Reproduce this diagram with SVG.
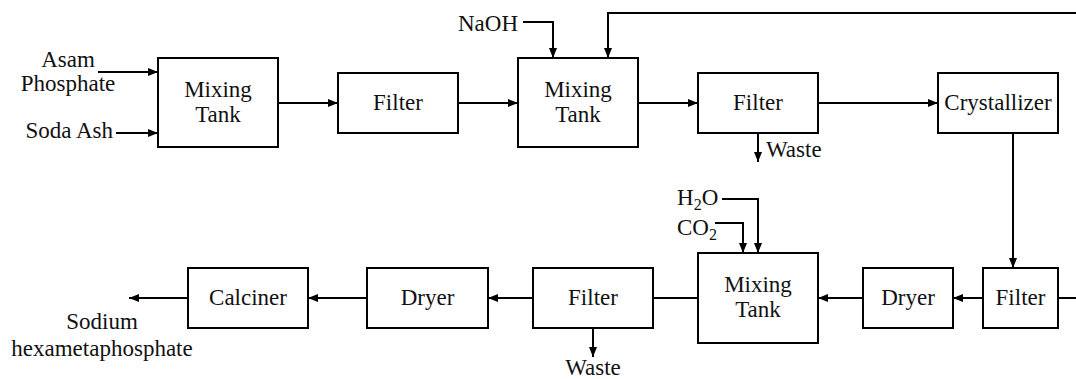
<svg xmlns="http://www.w3.org/2000/svg" width="1076" height="379" viewBox="0 0 1076 379">
<style>
.box{fill:#fff;stroke:#000;stroke-width:2}
text{font-family:'Liberation Serif','Times New Roman',serif;font-size:23px;fill:#111}
.c{text-anchor:middle}
.e{text-anchor:end}
.ln{fill:none;stroke:#000;stroke-width:2}
.sub{font-size:16px}
</style>
<defs>
<marker id="ah" viewBox="0 0 10 10" refX="10" refY="5" markerWidth="10" markerHeight="10" markerUnits="userSpaceOnUse" orient="auto">
<path d="M0,1 L10,5 L0,9 z" fill="#000"/>
</marker>
</defs>
<g id="connectors">
<line class="ln" x1="98" y1="72" x2="158" y2="72" marker-end="url(#ah)"/>
<line class="ln" x1="116" y1="133" x2="158" y2="133" marker-end="url(#ah)"/>
<line class="ln" x1="278" y1="103" x2="338" y2="103" marker-end="url(#ah)"/>
<line class="ln" x1="458" y1="103" x2="518" y2="103" marker-end="url(#ah)"/>
<polyline class="ln" points="523,22 553,22 553,58" marker-end="url(#ah)"/>
<polyline class="ln" points="1076,13 608,13 608,58" marker-end="url(#ah)"/>
<line class="ln" x1="638" y1="103" x2="698" y2="103" marker-end="url(#ah)"/>
<line class="ln" x1="818" y1="103" x2="938" y2="103" marker-end="url(#ah)"/>
<line class="ln" x1="758" y1="133" x2="758" y2="162" marker-end="url(#ah)"/>
<line class="ln" x1="1013" y1="133" x2="1013" y2="268" marker-end="url(#ah)"/>
<line class="ln" x1="1058" y1="298" x2="1076" y2="298"/>
<line class="ln" x1="983" y1="298" x2="953" y2="298" marker-end="url(#ah)"/>
<line class="ln" x1="863" y1="298" x2="818" y2="298" marker-end="url(#ah)"/>
<polyline class="ln" points="722,199 758,199 758,253" marker-end="url(#ah)"/>
<polyline class="ln" points="715,223 743,223 743,253" marker-end="url(#ah)"/>
<line class="ln" x1="698" y1="298" x2="653" y2="298"/>
<line class="ln" x1="593" y1="328" x2="593" y2="357" marker-end="url(#ah)"/>
<line class="ln" x1="533" y1="298" x2="488" y2="298" marker-end="url(#ah)"/>
<line class="ln" x1="367" y1="298" x2="308" y2="298" marker-end="url(#ah)"/>
<line class="ln" x1="188" y1="298" x2="129" y2="298" marker-end="url(#ah)"/>
</g>
<g id="mixing-tank-1"><rect class="box" x="158" y="58" width="120" height="89"/><text class="c" x="218" y="97">Mixing</text><text class="c" x="218" y="122">Tank</text></g>
<g id="filter-1"><rect class="box" x="338" y="73" width="120" height="60"/><text class="c" x="398" y="110">Filter</text></g>
<g id="mixing-tank-2"><rect class="box" x="518" y="58" width="120" height="89"/><text class="c" x="578" y="97">Mixing</text><text class="c" x="578" y="122">Tank</text></g>
<g id="filter-2"><rect class="box" x="698" y="73" width="120" height="60"/><text class="c" x="758" y="110">Filter</text></g>
<g id="crystallizer"><rect class="box" x="938" y="73" width="120" height="60"/><text class="c" x="998" y="110">Crystallizer</text></g>
<g id="filter-3"><rect class="box" x="983" y="268" width="75" height="60"/><text class="c" x="1020.5" y="305">Filter</text></g>
<g id="dryer-2"><rect class="box" x="863" y="268" width="90" height="60"/><text class="c" x="908" y="305">Dryer</text></g>
<g id="mixing-tank-3"><rect class="box" x="698" y="253" width="120" height="90"/><text class="c" x="758" y="292">Mixing</text><text class="c" x="758" y="317">Tank</text></g>
<g id="filter-4"><rect class="box" x="533" y="268" width="120" height="60"/><text class="c" x="593" y="305">Filter</text></g>
<g id="dryer-1"><rect class="box" x="367" y="268" width="121" height="60"/><text class="c" x="427.5" y="305">Dryer</text></g>
<g id="calciner"><rect class="box" x="188" y="268" width="120" height="60"/><text class="c" x="248" y="305">Calciner</text></g>
<g id="labels">
<text class="c" x="68" y="67">Asam</text>
<text class="c" x="68" y="91">Phosphate</text>
<text class="e" x="113" y="138">Soda Ash</text>
<text class="e" x="518" y="31">NaOH</text>
<text x="766" y="157">Waste</text>
<text x="677" y="205">H<tspan class="sub" dy="5">2</tspan><tspan dy="-5">O</tspan></text>
<text x="677" y="235">CO<tspan class="sub" dy="5">2</tspan></text>
<text class="c" x="593" y="375">Waste</text>
<text class="c" x="102" y="329">Sodium</text>
<text class="c" x="102" y="356">hexametaphosphate</text>
</g>
</svg>
